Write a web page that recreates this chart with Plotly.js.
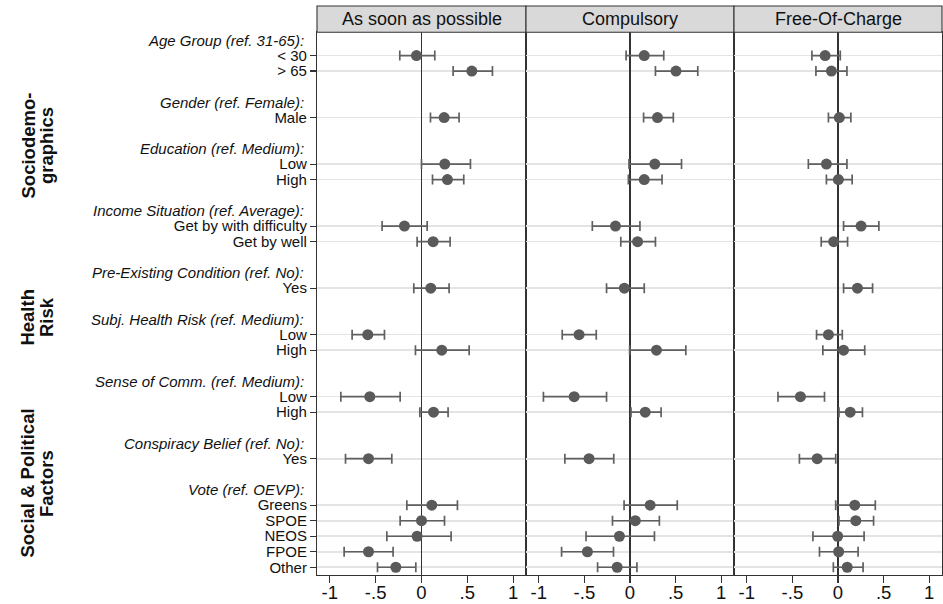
<!DOCTYPE html>
<html>
<head>
<meta charset="utf-8">
<script src="https://cdn.plot.ly/plotly-3.0.1.min.js"></script>
<style>html,body{margin:0;padding:0;background:#fff;}#chart{width:943px;height:604px;}</style>
</head>
<body>
<div id="chart"></div>
<script>
// ---------- DATA ----------
const outcomes = ["As soon as possible", "Compulsory", "Free-Of-Charge"];
const headers = ["Age Group (ref. 31-65):", "Gender (ref. Female):", "Education (ref. Medium):",
  "Income Situation (ref. Average):", "Pre-Existing Condition (ref. No):", "Subj. Health Risk (ref. Medium):",
  "Sense of Comm. (ref. Medium):", "Conspiracy Belief (ref. No):", "Vote (ref. OEVP):"];
const items = [["< 30", "> 65"], ["Male"], ["Low", "High"], ["Get by with difficulty", "Get by well"], ["Yes"],
  ["Low", "High"], ["Low", "High"], ["Yes"], ["Greens", "SPOE", "NEOS", "FPOE", "Other"]];
const domainLabels = [["Sociodemo-", "graphics"], ["Health", "Risk"], ["Social & Political", "Factors"]];
const domainLabelRows = [6.8, 17.9, 28.6];

const est_asap = [-0.055, 0.549, 0.247, 0.254, 0.283, -0.186, 0.127, 0.101, -0.586, 0.221, -0.564, 0.131, -0.578, 0.112, 0.0, -0.048, -0.578, -0.28];
const lo_asap  = [-0.237, 0.345, 0.098, 0.0, 0.12, -0.43, -0.048, -0.084, -0.757, -0.066, -0.88, -0.018, -0.829, -0.16, -0.233, -0.378, -0.844, -0.48];
const hi_asap  = [0.145, 0.774, 0.41, 0.534, 0.461, 0.062, 0.312, 0.301, -0.404, 0.52, -0.233, 0.29, -0.324, 0.392, 0.251, 0.323, -0.31, -0.062];

const est_comp = [0.156, 0.504, 0.301, 0.272, 0.156, -0.159, 0.083, -0.062, -0.558, 0.29, -0.612, 0.167, -0.449, 0.221, 0.058, -0.116, -0.467, -0.141];
const lo_comp  = [-0.043, 0.279, 0.149, -0.011, -0.018, -0.413, -0.101, -0.257, -0.743, -0.004, -0.949, 0.011, -0.714, -0.065, -0.192, -0.482, -0.75, -0.355];
const hi_comp  = [0.37, 0.743, 0.475, 0.565, 0.351, 0.109, 0.279, 0.156, -0.37, 0.612, -0.257, 0.341, -0.178, 0.518, 0.322, 0.268, -0.181, 0.076];

const est_free = [-0.141, -0.072, 0.014, -0.127, 0.004, 0.253, -0.047, 0.213, -0.105, 0.061, -0.412, 0.134, -0.228, 0.184, 0.195, -0.004, 0.007, 0.101];
const lo_free  = [-0.286, -0.242, -0.105, -0.325, -0.127, 0.061, -0.184, 0.061, -0.235, -0.166, -0.658, 0.011, -0.423, -0.025, 0.011, -0.275, -0.203, -0.051];
const hi_free  = [0.025, 0.098, 0.141, 0.098, 0.155, 0.448, 0.105, 0.379, 0.047, 0.293, -0.148, 0.268, -0.025, 0.409, 0.39, 0.286, 0.22, 0.275];

const xTickVals = [-1, -0.5, 0, 0.5, 1];
const xTickText = ["-1", "-.5", "0", ".5", "1"];

// ---------- BUILD ROWS ----------
const headerRows = [], catRows = [], catLabels = [];
let r = 0;
headers.forEach((h, gi) => {
  headerRows.push(r); r++;
  items[gi].forEach(lbl => { catRows.push(r); catLabels.push(lbl); r++; });
  r++; // blank spacer row
});
const nRows = r - 1;
const yRange = [nRows - 0.5, -0.5];

const FONT = "Liberation Sans, Arial, Helvetica, sans-serif";
const W = 943, H = 604;
const xDom = [[317 / W, 526 / W], [526 / W, 734 / W], [734 / W, 942 / W]];
const yDom = [(H - 575) / H, (H - 32.3) / H];

const series = [[est_asap, lo_asap, hi_asap], [est_comp, lo_comp, hi_comp], [est_free, lo_free, hi_free]];
const traces = series.map((s, i) => ({
  type: "scatter", mode: "markers",
  x: s[0], y: catRows,
  xaxis: i === 0 ? "x" : "x" + (i + 1), yaxis: i === 0 ? "y" : "y" + (i + 1),
  marker: { color: "#5a5a5a", size: 11, line: { width: 0 } },
  error_x: { type: "data", symmetric: false,
    array: s[2].map((v, k) => v - s[0][k]), arrayminus: s[0].map((v, k) => v - s[1][k]),
    color: "#606060", thickness: 1.7, width: 5 },
  showlegend: false, hoverinfo: "x+y"
}));

const layout = {
  width: W, height: H, margin: { l: 0, r: 0, t: 0, b: 0 },
  paper_bgcolor: "#fff", plot_bgcolor: "#fff", showlegend: false,
  font: { family: FONT, color: "#111" },
  shapes: [], annotations: []
};
for (let i = 0; i < 3; i++) {
  const sx = i === 0 ? "" : String(i + 1);
  layout["xaxis" + sx] = {
    domain: xDom[i], anchor: "y" + sx, range: [-1.14, 1.14],
    tickvals: xTickVals, ticktext: xTickText, ticks: "outside", ticklen: 7, tickwidth: 1.2, tickcolor: "#333",
    ticklabelstandoff: -6,
    tickfont: { size: 18.5, family: FONT, color: "#111" },
    showgrid: false, zeroline: true, zerolinecolor: "#333", zerolinewidth: 1.4,
    showline: true, linecolor: "#333", linewidth: 1.1, mirror: true, automargin: false, fixedrange: true
  };
  layout["yaxis" + sx] = {
    domain: yDom, anchor: "x" + sx, range: yRange,
    tickvals: catRows, ticktext: i === 0 ? catLabels : catRows.map(() => ""),
    showticklabels: i === 0, ticks: i === 0 ? "outside" : "", ticklen: 6, tickwidth: 1.2, tickcolor: "#333",
    tickfont: { size: 15, family: FONT, color: "#111" },
    showgrid: true, gridcolor: "#e4e4e4", gridwidth: 1.6, zeroline: false,
    showline: true, linecolor: "#333", linewidth: 1.1, mirror: true, automargin: false, fixedrange: true
  };
  // strip header
  layout.shapes.push({ type: "rect", xref: "paper", yref: "paper", x0: xDom[i][0], x1: xDom[i][1],
    y0: yDom[1], y1: (H - 6) / H, fillcolor: "#d9d9d9", line: { color: "#333", width: 1.1 }, layer: "above" });
  layout.annotations.push({ xref: "paper", yref: "paper", x: (xDom[i][0] + xDom[i][1]) / 2, y: (yDom[1] + (H - 6) / H) / 2,
    text: outcomes[i], showarrow: false, xanchor: "center", yanchor: "middle",
    font: { size: 18, family: FONT, color: "#111" } });
}
// italic group headers
headers.forEach((h, gi) => {
  layout.annotations.push({ xref: "paper", yref: "y", x: 306 / W, y: headerRows[gi], text: "<i>" + h + "</i>",
    showarrow: false, xanchor: "right", yanchor: "middle", font: { size: 15, family: FONT, color: "#111" } });
});
// rotated domain labels
domainLabels.forEach((lines, di) => {
  lines.forEach((t, li) => {
    layout.annotations.push({ xref: "paper", yref: "y", x: (li === 0 ? 28 : 46.5) / W, y: domainLabelRows[di],
      text: "<b>" + t + "</b>", textangle: -90, showarrow: false, xanchor: "center", yanchor: "middle",
      font: { size: 18.5, family: FONT, color: "#111" } });
  });
});

Plotly.newPlot("chart", traces, layout, { displayModeBar: false, staticPlot: true });
</script>
</body>
</html>
